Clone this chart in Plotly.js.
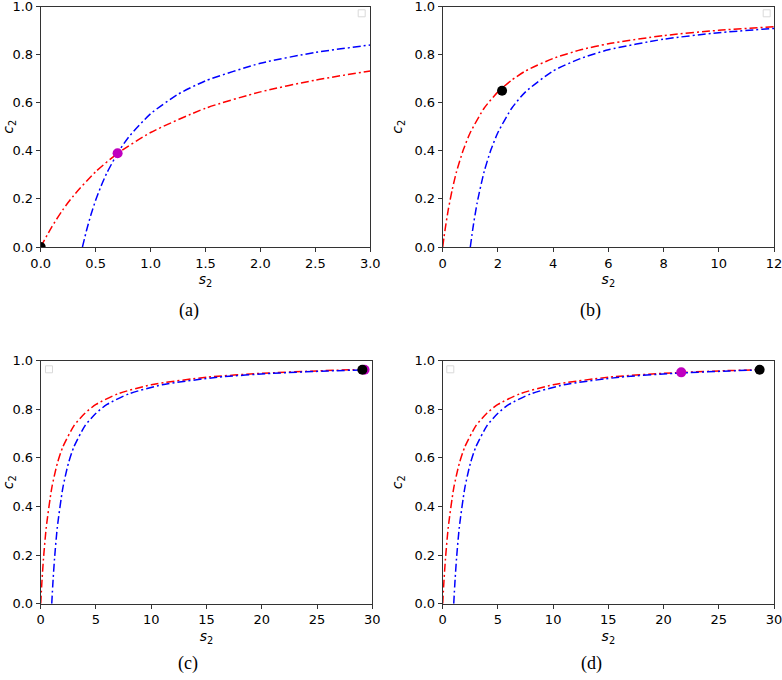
<!DOCTYPE html>
<html>
<head>
<meta charset="utf-8">
<script src="https://cdn.plot.ly/plotly-3.0.1.min.js"></script>
<style>
  body { margin: 0; background: #fff; }
  #chart { width: 782px; height: 680px; }
</style>
</head>
<body>
<div id="chart"></div>
<script>
// panel (a)
var redA_s = [0, 0.1, 0.2, 0.3, 0.5, 0.7, 1.0, 1.5, 2.0, 2.5, 3.0];
var redA_c = [0, 0.083, 0.154, 0.214, 0.313, 0.389, 0.476, 0.577, 0.645, 0.694, 0.732];
var blueA_s = [0.38, 0.42, 0.46, 0.5, 0.55, 0.6, 0.7, 0.8, 1.0, 1.25, 1.5, 2.0, 2.5, 3.0];
var blueA_c = [0, 0.074, 0.138, 0.194, 0.254, 0.306, 0.390, 0.457, 0.554, 0.635, 0.691, 0.764, 0.809, 0.840];
var blackA = [0, 0];
var magentaA = [0.7, 0.39];

// panel (b)
var redB_s = [0, 0.05, 0.1, 0.2, 0.35, 0.5, 0.75, 1, 1.5, 2, 2.5, 3, 4, 5, 6, 8, 10, 12];
var redB_c = [0, 0.043, 0.083, 0.154, 0.241, 0.313, 0.405, 0.476, 0.577, 0.645, 0.694, 0.732, 0.784, 0.820, 0.845, 0.879, 0.901, 0.916];
var blueB_s = [1, 1.1, 1.25, 1.5, 1.75, 2, 2.5, 3, 4, 5, 6, 8, 10, 12];
var blueB_c = [0, 0.083, 0.185, 0.313, 0.405, 0.476, 0.577, 0.645, 0.732, 0.784, 0.820, 0.864, 0.891, 0.909];
var blackB = [2.15, 0.65];

// panel (c)
var redC_s = [0, 0.1, 0.25, 0.5, 1, 1.5, 2, 3, 4, 5, 7, 10, 15, 20, 25, 29.1];
var redC_c = [0, 0.083, 0.185, 0.313, 0.476, 0.577, 0.645, 0.732, 0.784, 0.820, 0.864, 0.901, 0.932, 0.948, 0.958, 0.964];
var blueC_s = [1, 1.1, 1.25, 1.5, 2, 2.5, 3, 4, 5, 6, 8, 11, 16, 21, 26, 29.1];
var blueC_c = [0, 0.083, 0.185, 0.313, 0.476, 0.577, 0.645, 0.732, 0.784, 0.820, 0.864, 0.901, 0.932, 0.948, 0.958, 0.962];
var magentaC = [29.3, 0.963];
var blackC = [29.1, 0.963];

// panel (d)
var redD_s = [0, 0.1, 0.25, 0.5, 1, 1.5, 2, 3, 4, 5, 7, 10, 15, 20, 25, 28.7];
var redD_c = [0, 0.083, 0.185, 0.313, 0.476, 0.577, 0.645, 0.732, 0.784, 0.820, 0.864, 0.901, 0.932, 0.948, 0.958, 0.963];
var blueD_s = [1, 1.1, 1.25, 1.5, 2, 2.5, 3, 4, 5, 6, 8, 11, 16, 21, 26, 28.7];
var blueD_c = [0, 0.083, 0.185, 0.313, 0.476, 0.577, 0.645, 0.732, 0.784, 0.820, 0.864, 0.901, 0.932, 0.948, 0.958, 0.962];
var magentaD = [21.6, 0.952];
var blackD = [28.7, 0.963];

var ticksA = [0, 0.5, 1.0, 1.5, 2.0, 2.5, 3.0];
var ticksB = [0, 2, 4, 6, 8, 10, 12];
var ticksCD = [0, 5, 10, 15, 20, 25, 30];
var ticksY = [0, 0.2, 0.4, 0.6, 0.8, 1.0];
var captions = ['(a)', '(b)', '(c)', '(d)'];

var DASH = '8px,3px,2px,3px';

function curve(xs, ys, color, ax) {
  return {
    x: xs, y: ys, xaxis: 'x' + ax, yaxis: 'y' + ax,
    mode: 'lines', line: {color: color, width: 1.5, dash: DASH, shape: 'spline', smoothing: 0.6},
    showlegend: false, hoverinfo: 'skip'
  };
}
function dot(p, color, ax) {
  return {
    x: [p[0]], y: [p[1]], xaxis: 'x' + ax, yaxis: 'y' + ax,
    mode: 'markers', marker: {color: color, size: 10},
    showlegend: false, hoverinfo: 'skip'
  };
}

var RED = '#ff0000', BLUE = '#0000ff', MAG = '#bf00bf', BLK = '#000000';

var data = [
  curve(redA_s, redA_c, RED, ''), curve(blueA_s, blueA_c, BLUE, ''),
  dot(blackA, BLK, ''), dot(magentaA, MAG, ''),
  curve(redB_s, redB_c, RED, '2'), curve(blueB_s, blueB_c, BLUE, '2'),
  dot(blackB, BLK, '2'),
  curve(redC_s, redC_c, RED, '3'), curve(blueC_s, blueC_c, BLUE, '3'),
  dot(magentaC, MAG, '3'), dot(blackC, BLK, '3'),
  curve(redD_s, redD_c, RED, '4'), curve(blueD_s, blueD_c, BLUE, '4'),
  dot(magentaD, MAG, '4'), dot(blackD, BLK, '4')
];

var W = 782, H = 680;
var leftCol = [40.7 / W, 370.3 / W];
var leftColC = [40.7 / W, 372.3 / W];
var rightCol = [442.7 / W, 774 / W];
var topRow = [1 - 247 / H, 1 - 6.5 / H];
var botRow = [1 - 603.7 / H, 1 - 360.7 / H];

var tickFont = {family: 'DejaVu Sans', size: 13, color: '#000'};

function xAxis(dom, range, ticks, anchor, fmt) {
  return {
    domain: dom, range: range, anchor: anchor,
    tickvals: ticks, tickformat: fmt, ticks: 'outside', ticklen: 4, tickcolor: '#333',
    ticklabeloverflow: 'allow',
    showline: true, mirror: true, linecolor: '#333', linewidth: 1,
    showgrid: false, zeroline: false, tickfont: tickFont,
    title: {text: '<i>s</i><sub>2</sub>', font: {family: 'DejaVu Sans', size: 14, color: '#000'}, standoff: 4}
  };
}
function yAxis(dom, anchor) {
  return {
    domain: dom, range: [0, 1], anchor: anchor,
    tickvals: ticksY, tickformat: '.1f', ticks: 'outside', ticklen: 4, tickcolor: '#333',
    ticklabeloverflow: 'allow',
    showline: true, mirror: true, linecolor: '#333', linewidth: 1,
    showgrid: false, zeroline: false, tickfont: tickFont,
    title: {text: '<i>c</i><sub>2</sub>', font: {family: 'DejaVu Sans', size: 14, color: '#000'}, standoff: 8}
  };
}

function legendBox(px, py) {
  return {
    type: 'rect', xref: 'paper', yref: 'paper',
    x0: (px - 3.5) / W, x1: (px + 3.5) / W, y0: 1 - (py + 3.5) / H, y1: 1 - (py - 3.5) / H,
    line: {color: '#d9d9d9', width: 1}, fillcolor: 'rgba(255,255,255,0.8)'
  };
}

var capPos = [[189, 311], [590, 311], [188, 663], [591, 663]];
var annotations = captions.map(function (txt, i) {
  return {
    text: txt, xref: 'paper', yref: 'paper', showarrow: false,
    x: capPos[i][0] / W, y: 1 - capPos[i][1] / H, xanchor: 'center', yanchor: 'middle',
    font: {family: 'Liberation Serif', size: 18, color: '#000'}
  };
});

var layout = {
  width: W, height: H,
  margin: {l: 0, r: 0, t: 0, b: 0},
  paper_bgcolor: '#fff', plot_bgcolor: '#fff',
  showlegend: false,
  xaxis: xAxis(leftCol, [0, 3], ticksA, 'y', '.1f'),
  yaxis: yAxis(topRow, 'x'),
  xaxis2: xAxis(rightCol, [0, 12], ticksB, 'y2', 'd'),
  yaxis2: yAxis(topRow, 'x2'),
  xaxis3: xAxis(leftColC, [0, 30], ticksCD, 'y3', 'd'),
  yaxis3: yAxis(botRow, 'x3'),
  xaxis4: xAxis(rightCol, [0, 30], ticksCD, 'y4', 'd'),
  yaxis4: yAxis(botRow, 'x4'),
  shapes: [legendBox(361.7, 13.3), legendBox(766.7, 13.3), legendBox(49, 369.3), legendBox(450.3, 369.3)],
  annotations: annotations
};

Plotly.newPlot('chart', data, layout, {displayModeBar: false, staticPlot: true});
</script>
</body>
</html>
